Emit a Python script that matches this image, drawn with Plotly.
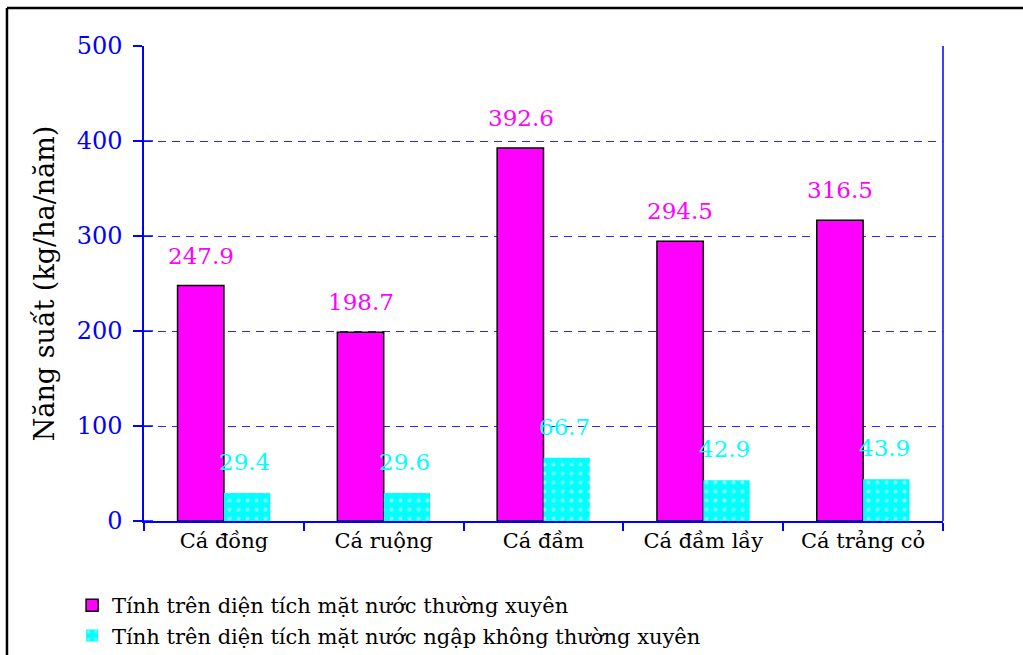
import plotly.graph_objects as go

categories = ["Cá đồng", "Cá ruộng", "Cá đầm", "Cá đầm lầy", "Cá trảng cỏ"]
thuong_xuyen = [247.9, 198.7, 392.6, 294.5, 316.5]
khong_thuong_xuyen = [29.4, 29.6, 66.7, 42.9, 43.9]
y_ticks = [0, 100, 200, 300, 400, 500]

name_a = "Tính trên diện tích mặt nước thường xuyên"
name_b = "Tính trên diện tích mặt nước ngập không thường xuyên"

SERIF = "DejaVu Serif"
BLUE = "#0000FF"
GRID = "#2828FF"
MAGENTA = "#FF00FF"
CYAN = "#00FFFF"

fig = go.Figure()
fig.add_trace(go.Bar(
    x=categories, y=thuong_xuyen, name=name_a,
    marker=dict(color=MAGENTA, line=dict(color="black", width=1.5)),
))
fig.add_trace(go.Bar(
    x=categories, y=khong_thuong_xuyen, name=name_b,
    marker=dict(color=CYAN, line=dict(color=CYAN, width=0),
                pattern=dict(shape=".", fgcolor="white", bgcolor=CYAN,
                             size=9, solidity=0.15)),
))

# value labels above each bar
annotations = []
for cat, va, vb in zip(categories, thuong_xuyen, khong_thuong_xuyen):
    annotations.append(dict(x=cat, y=va, text=f"{va}", showarrow=False,
                            xshift=-23, yshift=15, yanchor="bottom",
                            font=dict(family=SERIF, size=23, color=MAGENTA)))
    annotations.append(dict(x=cat, y=vb, text=f"{vb}", showarrow=False,
                            xshift=21, yshift=16, yanchor="bottom",
                            font=dict(family=SERIF, size=23, color=CYAN)))

# frame pieces: right edge of plot area, inner tick marks, outer border
shapes = [
    dict(type="line", xref="paper", yref="paper", x0=1, x1=1, y0=0, y1=1,
         line=dict(color=BLUE, width=1.5)),
    dict(type="line", xref="paper", yref="paper", x0=-0.1715, x1=1.2,
         y0=1.08, y1=1.08, line=dict(color="black", width=2.5)),
    dict(type="line", xref="paper", yref="paper", x0=-0.1715, x1=-0.1715,
         y0=1.08, y1=-0.3, line=dict(color="black", width=2.5)),
]
for t in y_ticks[:-1]:
    shapes.append(dict(type="line", xref="paper", yref="y", x0=0, x1=9 / 799,
                       y0=t, y1=t, line=dict(color=BLUE, width=1.5)))

fig.update_layout(
    width=1023, height=655,
    margin=dict(l=144, r=80, t=46, b=134, autoexpand=False),
    paper_bgcolor="white", plot_bgcolor="white",
    barmode="group", bargap=0.42, bargroupgap=0,
    font=dict(family=SERIF, color="black"),
    showlegend=True,
    legend=dict(orientation="v", x=-0.09, xanchor="left", y=-0.135, yanchor="top",
                font=dict(family=SERIF, size=21, color="black"),
                tracegroupgap=0, itemwidth=30, bgcolor="rgba(0,0,0,0)"),
    annotations=annotations,
    shapes=shapes,
)
fig.update_xaxes(
    type="category", showline=True, linecolor=BLUE, linewidth=1.5,
    ticks="outside", tickson="boundaries", ticklen=8, tickcolor=BLUE, tickwidth=1.5,
    tickfont=dict(family=SERIF, size=21, color="black"),
    showgrid=False, automargin=False,
)
fig.update_yaxes(
    range=[0, 500], tickvals=y_ticks, showline=True, linecolor=BLUE, linewidth=1.5,
    ticks="outside", ticklen=9, tickcolor=BLUE, tickwidth=1.5,
    ticklabelstandoff=6, automargin=False,
    tickfont=dict(family=SERIF, size=24, color=BLUE),
    showgrid=True, gridcolor=GRID, gridwidth=1.3, griddash="8px,6px",
    zeroline=False,
    title=dict(text="Năng suất (kg/ha/năm)", standoff=14,
               font=dict(family=SERIF, size=27, color="black")),
)

fig.write_html("out.html")
